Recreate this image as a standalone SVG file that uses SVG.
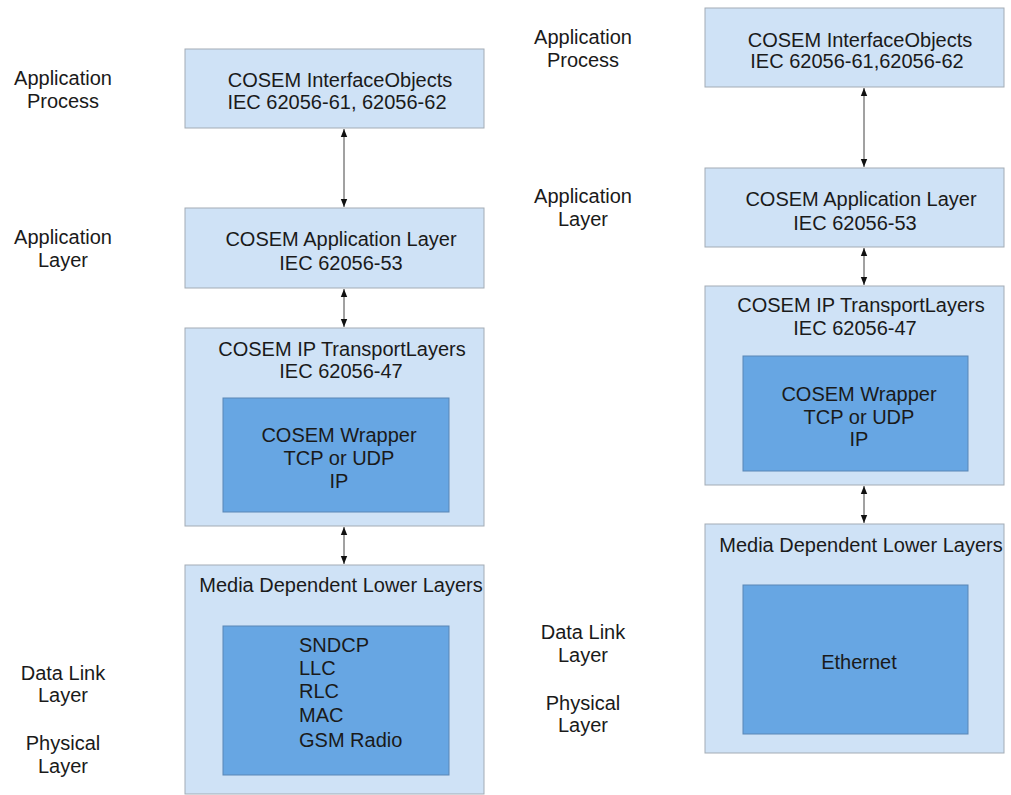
<svg xmlns="http://www.w3.org/2000/svg" width="1011" height="795" viewBox="0 0 1011 795">
<defs>
<style>
text{font-family:"Liberation Sans",Arial,sans-serif;font-size:20px;fill:#1a1a1a}
.c{text-anchor:middle}
.outer{fill:#cfe2f6;stroke:#a3acb5;stroke-width:1}
.inner{fill:#67a6e3;stroke:#5a86b5;stroke-width:1}
.conn{stroke:#444;stroke-width:1;fill:none;marker-start:url(#ah);marker-end:url(#ah)}
</style>
<marker id="ah" viewBox="0 0 10 10" refX="10" refY="5" markerWidth="8" markerHeight="8" markerUnits="userSpaceOnUse" orient="auto-start-reverse">
<path d="M0,1 L10,5 L0,9 Z" fill="#111"/>
</marker>
</defs>
<rect width="1011" height="795" fill="#fff"/>

<g id="labels-left">
<text class="c" x="63" y="85">Application</text>
<text class="c" x="63" y="108">Process</text>
<text class="c" x="63" y="244">Application</text>
<text class="c" x="63" y="267">Layer</text>
<text class="c" x="63" y="680">Data Link</text>
<text class="c" x="63" y="702">Layer</text>
<text class="c" x="63" y="750">Physical</text>
<text class="c" x="63" y="773">Layer</text>
</g>
<g id="labels-right">
<text class="c" x="583" y="44">Application</text>
<text class="c" x="583" y="67">Process</text>
<text class="c" x="583" y="203">Application</text>
<text class="c" x="583" y="226">Layer</text>
<text class="c" x="583" y="639">Data Link</text>
<text class="c" x="583" y="662">Layer</text>
<text class="c" x="583" y="710">Physical</text>
<text class="c" x="583" y="732">Layer</text>
</g>

<g id="L-interface">
<rect class="outer" x="185" y="49" width="299" height="79"/>
<text class="c" x="340" y="87">COSEM  InterfaceObjects</text>
<text class="c" x="337" y="109">IEC 62056-61, 62056-62</text>
</g>
<g id="L-app">
<rect class="outer" x="185" y="208" width="299" height="80"/>
<text class="c" x="341" y="246">COSEM Application Layer</text>
<text class="c" x="341" y="270">IEC 62056-53</text>
</g>
<g id="L-transport">
<rect class="outer" x="185" y="328" width="299" height="198"/>
<text class="c" x="342" y="356">COSEM IP TransportLayers</text>
<text class="c" x="341" y="378">IEC 62056-47</text>
</g>
<g id="L-wrapper">
<rect class="inner" x="223" y="398" width="226" height="114"/>
<text class="c" x="339" y="442">COSEM Wrapper</text>
<text class="c" x="339" y="465">TCP or UDP</text>
<text class="c" x="339" y="488">IP</text>
</g>
<g id="L-media">
<rect class="outer" x="185" y="565" width="299" height="229"/>
<text class="c" x="341" y="592">Media Dependent Lower Layers</text>
</g>
<g id="L-gsm">
<rect class="inner" x="223" y="626" width="226" height="149"/>
<text x="299" y="652">SNDCP</text>
<text x="299" y="675">LLC</text>
<text x="299" y="698">RLC</text>
<text x="299" y="722">MAC</text>
<text x="299" y="747">GSM Radio</text>
</g>

<g id="R-interface">
<rect class="outer" x="705" y="8" width="299" height="79"/>
<text class="c" x="860" y="47">COSEM   InterfaceObjects</text>
<text class="c" x="857" y="68">IEC 62056-61,62056-62</text>
</g>
<g id="R-app">
<rect class="outer" x="705" y="168" width="299" height="79"/>
<text class="c" x="861" y="206">COSEM Application Layer</text>
<text class="c" x="855" y="230">IEC 62056-53</text>
</g>
<g id="R-transport">
<rect class="outer" x="705" y="286" width="299" height="199"/>
<text class="c" x="861" y="312">COSEM IP TransportLayers</text>
<text class="c" x="855" y="335">IEC 62056-47</text>
</g>
<g id="R-wrapper">
<rect class="inner" x="743" y="356" width="225" height="115"/>
<text class="c" x="859" y="401">COSEM Wrapper</text>
<text class="c" x="859" y="424">TCP or UDP</text>
<text class="c" x="859" y="446">IP</text>
</g>
<g id="R-media">
<rect class="outer" x="705" y="524" width="299" height="229"/>
<text class="c" x="861" y="552">Media Dependent Lower Layers</text>
</g>
<g id="R-ethernet">
<rect class="inner" x="743" y="585" width="225" height="149"/>
<text class="c" x="859" y="669">Ethernet</text>
</g>

<g id="connectors">
<line class="conn" x1="344" y1="129" x2="344" y2="207"/>
<line class="conn" x1="344" y1="289" x2="344" y2="327"/>
<line class="conn" x1="344" y1="527" x2="344" y2="564"/>
<line class="conn" x1="864" y1="88" x2="864" y2="167"/>
<line class="conn" x1="864" y1="248" x2="864" y2="285"/>
<line class="conn" x1="864" y1="486" x2="864" y2="523"/>
</g>
</svg>
